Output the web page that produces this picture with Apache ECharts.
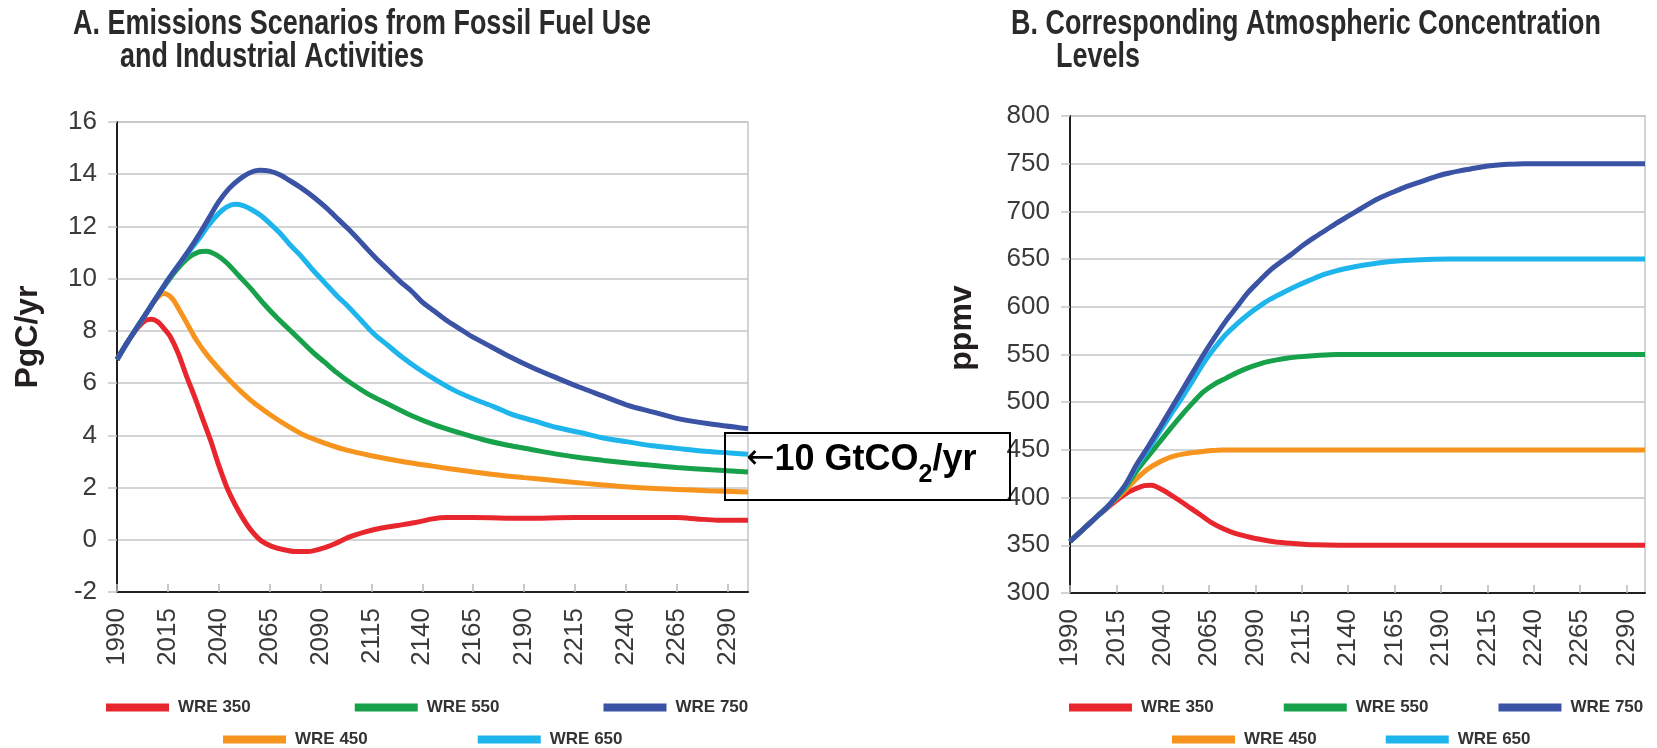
<!DOCTYPE html>
<html>
<head>
<meta charset="utf-8">
<script src="https://cdn.jsdelivr.net/npm/echarts@6/dist/echarts.min.js"></script>
<style>
  html, body { margin: 0; padding: 0; background: #fff; }
  #chart { width: 1657px; height: 748px; }
</style>
</head>
<body>
<div id="chart"></div>
<script>
// tick labels on both year axes
const xTicks = [1990, 2015, 2040, 2065, 2090, 2115, 2140, 2165, 2190, 2215, 2240, 2265, 2290]

const seriesNames = ['WRE 350', 'WRE 450', 'WRE 550', 'WRE 650', 'WRE 750']

// A. emissions, PgC/yr
const emis350 = [[1990, 6.9], [1995, 7.55], [2000, 8.1], [2004, 8.4], [2007, 8.45], [2010, 8.35], [2013, 8.1], [2016, 7.8], [2020, 7.15], [2024, 6.3], [2028, 5.5], [2032, 4.65], [2036, 3.8], [2040, 2.85], [2044, 2.0], [2048, 1.35], [2052, 0.8], [2056, 0.35], [2061, -0.05], [2066, -0.25], [2072, -0.38], [2078, -0.45], [2084, -0.45], [2090, -0.35], [2097, -0.15], [2104, 0.1], [2112, 0.3], [2120, 0.45], [2128, 0.55], [2136, 0.65], [2145, 0.8], [2152, 0.85], [2165, 0.85], [2190, 0.82], [2215, 0.85], [2240, 0.85], [2265, 0.85], [2275, 0.8], [2285, 0.75], [2300, 0.75]]
const emis450 = [[1990, 6.9], [1995, 7.55], [2000, 8.15], [2005, 8.75], [2009, 9.2], [2013, 9.43], [2017, 9.25], [2021, 8.75], [2025, 8.2], [2029, 7.65], [2034, 7.1], [2040, 6.55], [2046, 6.05], [2052, 5.6], [2058, 5.2], [2066, 4.75], [2074, 4.35], [2082, 4.0], [2092, 3.7], [2102, 3.45], [2115, 3.22], [2130, 3.0], [2145, 2.82], [2160, 2.65], [2175, 2.5], [2190, 2.38], [2205, 2.27], [2220, 2.16], [2235, 2.06], [2250, 1.98], [2265, 1.93], [2280, 1.88], [2300, 1.83]]
const emis550 = [[1990, 6.9], [1995, 7.55], [2000, 8.15], [2005, 8.75], [2010, 9.35], [2015, 9.9], [2020, 10.4], [2025, 10.8], [2030, 11.02], [2034, 11.05], [2039, 10.9], [2044, 10.6], [2050, 10.1], [2056, 9.6], [2062, 9.05], [2068, 8.55], [2074, 8.1], [2080, 7.65], [2086, 7.2], [2092, 6.8], [2098, 6.4], [2104, 6.05], [2113, 5.6], [2123, 5.2], [2134, 4.78], [2146, 4.4], [2158, 4.1], [2170, 3.83], [2182, 3.62], [2194, 3.45], [2206, 3.28], [2217, 3.15], [2229, 3.04], [2241, 2.94], [2253, 2.85], [2265, 2.77], [2282, 2.68], [2300, 2.6]]
const emis650 = [[1990, 6.9], [1995, 7.55], [2000, 8.15], [2005, 8.75], [2010, 9.35], [2015, 9.95], [2020, 10.5], [2025, 11.0], [2030, 11.5], [2035, 12.05], [2040, 12.5], [2044, 12.75], [2048, 12.85], [2052, 12.8], [2056, 12.65], [2061, 12.4], [2066, 12.05], [2070, 11.75], [2075, 11.3], [2080, 10.9], [2086, 10.35], [2092, 9.85], [2098, 9.35], [2104, 8.9], [2110, 8.4], [2116, 7.9], [2123, 7.45], [2130, 7.0], [2138, 6.55], [2146, 6.15], [2155, 5.75], [2165, 5.4], [2175, 5.1], [2184, 4.8], [2195, 4.55], [2206, 4.3], [2218, 4.1], [2229, 3.9], [2241, 3.75], [2253, 3.6], [2265, 3.5], [2277, 3.4], [2290, 3.33], [2300, 3.28]]
const emis750 = [[1990, 6.9], [1995, 7.55], [2000, 8.15], [2005, 8.75], [2010, 9.35], [2015, 9.95], [2020, 10.5], [2025, 11.05], [2030, 11.65], [2035, 12.3], [2040, 12.95], [2045, 13.45], [2050, 13.8], [2055, 14.05], [2060, 14.15], [2065, 14.12], [2070, 13.98], [2075, 13.75], [2081, 13.45], [2087, 13.1], [2093, 12.7], [2099, 12.25], [2105, 11.8], [2111, 11.3], [2117, 10.8], [2123, 10.35], [2129, 9.9], [2135, 9.5], [2140, 9.1], [2146, 8.75], [2152, 8.4], [2158, 8.1], [2164, 7.8], [2170, 7.55], [2182, 7.05], [2194, 6.6], [2206, 6.2], [2217, 5.85], [2229, 5.5], [2241, 5.15], [2253, 4.9], [2265, 4.65], [2280, 4.45], [2300, 4.25]]

// B. concentrations, ppmv
const conc350 = [[1990, 354], [1995, 363], [2000, 372], [2005, 381], [2010, 389], [2015, 397], [2020, 404], [2025, 409], [2030, 412.5], [2034, 413], [2038, 410], [2043, 404.5], [2049, 397], [2055, 389], [2061, 381], [2067, 373], [2073, 367], [2079, 362.5], [2086, 359], [2093, 356], [2101, 353.5], [2110, 352], [2122, 350.5], [2135, 350], [2200, 350], [2300, 350]]
const conc450 = [[1990, 354], [1995, 363], [2000, 372], [2005, 381], [2010, 390], [2015, 399], [2020, 408], [2026, 420], [2032, 430], [2038, 437], [2043, 441.5], [2048, 444.5], [2054, 446.5], [2060, 448], [2066, 449.3], [2072, 450], [2150, 450], [2300, 450]]
const conc550 = [[1990, 354], [1995, 363], [2000, 372], [2005, 381], [2010, 390], [2015, 400], [2020, 411], [2026, 428], [2032, 443], [2038, 457.5], [2044, 472], [2050, 486], [2056, 499], [2062, 511], [2068, 519], [2074, 525], [2080, 531], [2086, 536], [2092, 540], [2098, 543], [2105, 545.5], [2113, 547.5], [2123, 549], [2134, 550], [2200, 550], [2300, 550]]
const conc650 = [[1990, 354], [1995, 363], [2000, 372], [2005, 381], [2010, 390], [2015, 401], [2020, 413], [2026, 433], [2032, 450], [2038, 468], [2044, 486], [2050, 503.5], [2056, 522], [2062, 541], [2068, 557], [2074, 571], [2080, 582], [2086, 592], [2092, 600.5], [2098, 608], [2105, 615], [2113, 622.5], [2120, 628.5], [2127, 634], [2134, 638], [2141, 641], [2148, 643.5], [2156, 646], [2163, 647.5], [2170, 648.5], [2182, 649.5], [2195, 650], [2250, 650], [2300, 650]]
const conc750 = [[1990, 354], [1995, 363], [2000, 372], [2005, 381], [2010, 390], [2015, 401], [2020, 414], [2026, 435], [2032, 453], [2038, 472], [2044, 491.5], [2050, 511], [2056, 530.5], [2062, 550], [2068, 568], [2074, 585], [2080, 600], [2086, 615], [2092, 627], [2098, 638.5], [2104, 647.5], [2110, 656], [2116, 665], [2122, 673], [2128, 680.5], [2134, 688], [2140, 695], [2146, 702], [2152, 709], [2158, 715], [2164, 720], [2170, 725], [2176, 729], [2182, 733], [2188, 737], [2194, 740], [2200, 742.5], [2206, 744.5], [2212, 746.5], [2218, 748], [2226, 749.3], [2235, 750], [2270, 750], [2300, 750]]

const emisData = [emis350, emis450, emis550, emis650, emis750]
const concData = [conc350, conc450, conc550, conc650, conc750]

const colors = ['#e8262d', '#f7941e', '#16a14a', '#1db5ec', '#3a53a4']
const gridGray = '#c3c6c9'
const axisBlack = '#231f20'
const labelFont = 'Liberation Sans'

const makeLine = (name, data, color, idx) => ({
  name,
  type: 'line',
  xAxisIndex: idx,
  yAxisIndex: idx,
  data,
  smooth: 0.3,
  showSymbol: false,
  symbol: 'none',
  itemStyle: { color },
  lineStyle: { color, width: 5 }
})

const makeXAxis = (idx) => ({
  type: 'value',
  gridIndex: idx,
  min: 1990,
  max: 2300,
  axisLine: { show: true, onZero: false, lineStyle: { color: axisBlack, width: 2 } },
  axisTick: { show: true, inside: true, length: 8, customValues: xTicks, lineStyle: { color: '#b5b8bb', width: 1.5 } },
  axisLabel: {
    customValues: xTicks, rotate: 90, margin: 16,
    formatter: (v) => String(v),
    fontFamily: labelFont, fontSize: 26, color: '#3a3a3a'
  },
  splitLine: { show: false }
})

const makeYAxis = (idx, min, max, interval) => ({
  type: 'value',
  gridIndex: idx,
  min,
  max,
  interval,
  axisLine: { show: true, onZero: false, lineStyle: { color: axisBlack, width: 2 } },
  axisTick: { show: true, length: 9, lineStyle: { color: gridGray, width: 1.5 } },
  axisLabel: { margin: 20, fontFamily: labelFont, fontSize: 26, color: '#3a3a3a' },
  splitLine: { show: true, lineStyle: { color: gridGray, width: 1.5 } }
})

const legendBase = {
  icon: 'rect',
  itemWidth: 63,
  itemHeight: 8,
  padding: 0,
  selectedMode: false,
  textStyle: { fontFamily: labelFont, fontWeight: 'bold', fontSize: 17, color: '#333', padding: [0, 0, 0, 4] }
}

// condensed look: bold sans squeezed horizontally
const titleText = (text, x, y) => ({
  type: 'text',
  x,
  y,
  scaleX: 0.77,
  style: { text, fontFamily: labelFont, fontWeight: 'bold', fontSize: 35, fill: '#2a2a2a', verticalAlign: 'top' }
})

const axisName = (text, x, y) => ({
  type: 'text',
  x,
  y,
  rotation: Math.PI / 2,
  style: { text, fontFamily: labelFont, fontWeight: 'bold', fontSize: 32, fill: '#231f20', align: 'center', verticalAlign: 'middle' }
})

const chartDom = document.getElementById('chart')
const myChart = echarts.init(chartDom)

const option = {
  animation: false,
  backgroundColor: '#fff',
  grid: [
    { left: 117, top: 122, width: 631, height: 470, show: true, borderColor: gridGray, borderWidth: 1.5 },
    { left: 1070, top: 116, width: 575, height: 477, show: true, borderColor: gridGray, borderWidth: 1.5 }
  ],
  xAxis: [makeXAxis(0), makeXAxis(1)],
  yAxis: [makeYAxis(0, -2, 16, 2), makeYAxis(1, 300, 800, 50)],
  legend: [
    Object.assign({}, legendBase, { data: ['WRE 350', 'WRE 550', 'WRE 750'], left: 106, top: 699, itemGap: 104 }),
    Object.assign({}, legendBase, { data: ['WRE 450', 'WRE 650'], left: 223, top: 731, itemGap: 110 }),
    Object.assign({}, legendBase, { data: ['WRE 350', 'WRE 550', 'WRE 750'], left: 1069, top: 699, itemGap: 70 }),
    Object.assign({}, legendBase, { data: ['WRE 450', 'WRE 650'], left: 1172, top: 731, itemGap: 69 })
  ],
  series: [
    ...seriesNames.map((n, i) => makeLine(n, emisData[i], colors[i], 0)),
    ...seriesNames.map((n, i) => makeLine(n, concData[i], colors[i], 1))
  ],
  graphic: [
    titleText('A. Emissions Scenarios from Fossil Fuel Use', 73, 7),
    titleText('and Industrial Activities', 120, 40),
    titleText('B. Corresponding Atmospheric Concentration', 1011, 7),
    titleText('Levels', 1056, 40),
    axisName('PgC/yr', 28, 337),
    axisName('ppmv', 962, 328),
    {
      type: 'rect', z: 100,
      shape: { x: 725, y: 433, width: 285, height: 67 },
      style: { fill: 'none', stroke: '#000', lineWidth: 2 }
    },
    {
      type: 'text', z: 100, x: 746, y: 442,
      style: {
        text: '{r|←}{a|10 GtCO}{s|2}{a|/yr}',
        verticalAlign: 'top',
        rich: {
          r: { fontFamily: 'DejaVu Sans', fontSize: 34, fill: '#000', lineHeight: 42, verticalAlign: 'top' },
          a: { fontFamily: labelFont, fontWeight: 'bold', fontSize: 36, fill: '#000', lineHeight: 42, verticalAlign: 'top' },
          s: { fontFamily: labelFont, fontWeight: 'bold', fontSize: 25, fill: '#000', lineHeight: 25, padding: [21, 0, 0, 0], verticalAlign: 'top' }
        }
      }
    }
  ]
}

option && myChart.setOption(option)
</script>
</body>
</html>
